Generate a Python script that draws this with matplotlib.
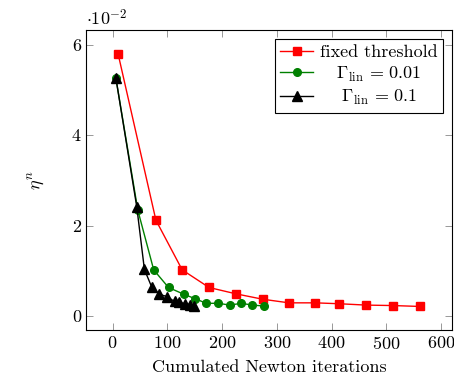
import matplotlib
matplotlib.use("Agg")
import matplotlib.pyplot as plt
from matplotlib.ticker import FuncFormatter
from matplotlib.transforms import Affine2D

plt.rcParams["font.family"] = "serif"
plt.rcParams["font.serif"] = ["cmr10"]
plt.rcParams["mathtext.fontset"] = "cm"
plt.rcParams["axes.unicode_minus"] = False
plt.rcParams["axes.formatter.use_mathtext"] = True

# fixed threshold
fixed_x = [10, 79, 127, 176, 225, 274, 322, 370, 414, 463, 512, 561]
fixed_y = [0.0580, 0.0212, 0.0102, 0.0063, 0.0049, 0.0037, 0.0029, 0.0029, 0.0027, 0.0024, 0.0023, 0.0021]

# Gamma_lin = 0.01
g001_x = [6, 46, 75, 102, 130, 151, 171, 193, 214, 235, 255, 277]
g001_y = [0.0526, 0.0234, 0.0102, 0.0063, 0.0048, 0.0038, 0.0028, 0.0028, 0.0024, 0.0028, 0.0024, 0.0022]

# Gamma_lin = 0.1
g01_x = [6, 44, 58, 71, 85, 99, 113, 122, 132, 141, 148]
g01_y = [0.0526, 0.0242, 0.0103, 0.0065, 0.0048, 0.0043, 0.0032, 0.0030, 0.0027, 0.0025, 0.0023]

xticks = [0, 100, 200, 300, 400, 500, 600]
yticks = [0, 0.02, 0.04, 0.06]

fs = 13
fig = plt.figure(figsize=(4.54, 3.85), dpi=100)
ax = fig.add_axes([0.189, 0.143, 0.807, 0.779])

ax.plot(fixed_x, fixed_y, color="red", marker="s", markersize=5.5, lw=1, label="fixed threshold")
ax.plot(g001_x, g001_y, color="green", marker="o", markersize=5.5, lw=1, label=r"$\Gamma_{\mathrm{lin}}\,=\,0.01$")
ax.plot(g01_x, g01_y, color="black", marker="^", markersize=6.5, lw=1, label=r"$\Gamma_{\mathrm{lin}}\,=\,0.1$")

ax.set_xlim(-49, 620)
ax.set_ylim(-0.0031, 0.0633)
ax.set_xticks(xticks)
ax.set_yticks(yticks)
ax.yaxis.set_major_formatter(FuncFormatter(lambda v, p: f"{v * 100:g}"))
ax.tick_params(direction="in", top=True, right=True, length=5, width=0.6,
               color="#888888", labelsize=fs)
for s in ax.spines.values():
    s.set_linewidth(0.8)
ax.text(0.0, 1.005, r"$\cdot 10^{-2}$", transform=ax.transAxes, fontsize=fs, va="bottom", ha="left")

ax.set_xlabel("Cumulated Newton iterations", fontsize=fs, labelpad=6)
ax.set_ylabel(r"$\eta^n$", fontsize=fs, labelpad=18)

leg = ax.legend(loc="upper right", fontsize=fs, fancybox=False, edgecolor="black",
                framealpha=1, borderaxespad=0.5, handlelength=1.8, borderpad=0.3,
                labelspacing=0.25, handletextpad=0.4)
leg.get_frame().set_linewidth(0.8)

# centre the legend entries like pgfplots does
fig.canvas.draw()
r = fig.canvas.get_renderer()
widths = [t.get_window_extent(r).width for t in leg.get_texts()]
wmax = max(widths)
for t, w in zip(leg.get_texts(), widths):
    t.set_transform(t.get_transform() + Affine2D().translate((wmax - w) / 2, 0))

fig.savefig("out.png", dpi=100)
